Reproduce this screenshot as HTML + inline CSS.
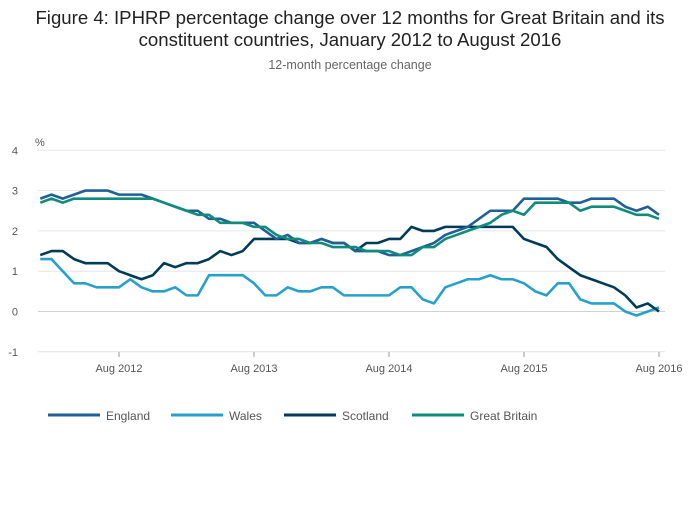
<!DOCTYPE html>
<html><head><meta charset="utf-8"><style>
body{margin:0;background:#fff;font-family:"Liberation Sans",sans-serif;}
svg text{font-family:"Liberation Sans",sans-serif;}
</style></head><body>
<svg id="chart" width="700" height="502">
<text x="350" y="24" text-anchor="middle" font-size="18.6" fill="#222">Figure 4: IPHRP percentage change over 12 months for Great Britain and its</text>
<text x="350" y="46" text-anchor="middle" font-size="18.6" fill="#222">constituent countries, January 2012 to August 2016</text>
<text x="350" y="69" text-anchor="middle" font-size="12.5" fill="#666">12-month percentage change</text>
<text x="35" y="146" font-size="11" fill="#555">%</text>
<g id="grid"></g><g id="lines"></g><g id="legend"></g>
</svg>
<script>
const yTicks=[4,3,2,1,0,-1];
const xTickLabels=["Aug 2012","Aug 2013","Aug 2014","Aug 2015","Aug 2016"];
const xTickIndex=[7,19,31,43,55];
const seriesNames=["England","Wales","Scotland","Great Britain"];
const england=[2.8,2.9,2.8,2.9,3.0,3.0,3.0,2.9,2.9,2.9,2.8,2.7,2.6,2.5,2.5,2.3,2.3,2.2,2.2,2.2,2.0,1.8,1.9,1.7,1.7,1.8,1.7,1.7,1.5,1.5,1.5,1.4,1.4,1.5,1.6,1.7,1.9,2.0,2.1,2.3,2.5,2.5,2.5,2.8,2.8,2.8,2.8,2.7,2.7,2.8,2.8,2.8,2.6,2.5,2.6,2.4];
const wales=[1.3,1.3,1.0,0.7,0.7,0.6,0.6,0.6,0.8,0.6,0.5,0.5,0.6,0.4,0.4,0.9,0.9,0.9,0.9,0.7,0.4,0.4,0.6,0.5,0.5,0.6,0.6,0.4,0.4,0.4,0.4,0.4,0.6,0.6,0.3,0.2,0.6,0.7,0.8,0.8,0.9,0.8,0.8,0.7,0.5,0.4,0.7,0.7,0.3,0.2,0.2,0.2,0.0,-0.1,0.0,0.1];
const scotland=[1.4,1.5,1.5,1.3,1.2,1.2,1.2,1.0,0.9,0.8,0.9,1.2,1.1,1.2,1.2,1.3,1.5,1.4,1.5,1.8,1.8,1.8,1.8,1.7,1.7,1.8,1.7,1.7,1.5,1.7,1.7,1.8,1.8,2.1,2.0,2.0,2.1,2.1,2.1,2.1,2.1,2.1,2.1,1.8,1.7,1.6,1.3,1.1,0.9,0.8,0.7,0.6,0.4,0.1,0.2,0.0];
const gb=[2.7,2.8,2.7,2.8,2.8,2.8,2.8,2.8,2.8,2.8,2.8,2.7,2.6,2.5,2.4,2.4,2.2,2.2,2.2,2.1,2.1,1.9,1.8,1.8,1.7,1.7,1.6,1.6,1.6,1.5,1.5,1.5,1.4,1.4,1.6,1.6,1.8,1.9,2.0,2.1,2.2,2.4,2.5,2.4,2.7,2.7,2.7,2.7,2.5,2.6,2.6,2.6,2.5,2.4,2.4,2.3];
const colors=["#206095","#27a0cc","#003c57","#118c7b"];
const NS="http://www.w3.org/2000/svg";
const xs=i=>40.25+i*11.25;
const ys=v=>311.5-v*40.3;
function mk(t,a,p){const e=document.createElementNS(NS,t);for(const k in a)e.setAttribute(k,a[k]);p.appendChild(e);return e;}
const grid=document.getElementById('grid');
yTicks.forEach(v=>{
 const l=mk('line',{x1:38,x2:665,y1:ys(v),y2:ys(v),stroke:v===0?'#d0d0d0':'#e6e6e6','stroke-width':1},grid);
 
 
 const t=mk('text',{x:18,y:ys(v)+4,'font-size':11,fill:'#555','text-anchor':'end'},grid);
 
 
 t.textContent=v;
});
xTickLabels.forEach((s,k)=>{
 const x=xs(xTickIndex[k]);
 const l=mk('line',{x1:x,x2:x,y1:352,y2:357,stroke:'#999'},grid);
 
 
 const t=mk('text',{x:x,y:372,'font-size':11,fill:'#555','text-anchor':'middle'},grid);
 
 
 t.textContent=s;
});
const data=[england,wales,scotland,gb];
const lines=document.getElementById('lines');
const order=[1,2,0,3];
order.forEach(k=>{
 const d=data[k].map((v,i)=>(i?'L':'M')+xs(i).toFixed(2)+','+ys(v).toFixed(2)).join('');
 const p=mk('path',{d:d,fill:'none',stroke:colors[k],'stroke-width':2.6,'stroke-linejoin':'round'},lines);
 
 
});
const lg=document.getElementById('legend');
const lx=[48,171,284,412];
seriesNames.forEach((n,k)=>{
 const l=mk('line',{x1:lx[k],x2:lx[k]+52,y1:415,y2:415,stroke:colors[k],'stroke-width':3},lg);
 
 
 const t=mk('text',{x:lx[k]+58,y:420,'font-size':12,fill:'#555'},lg);
 
 
 t.textContent=n;
});
</script>
</body></html>
